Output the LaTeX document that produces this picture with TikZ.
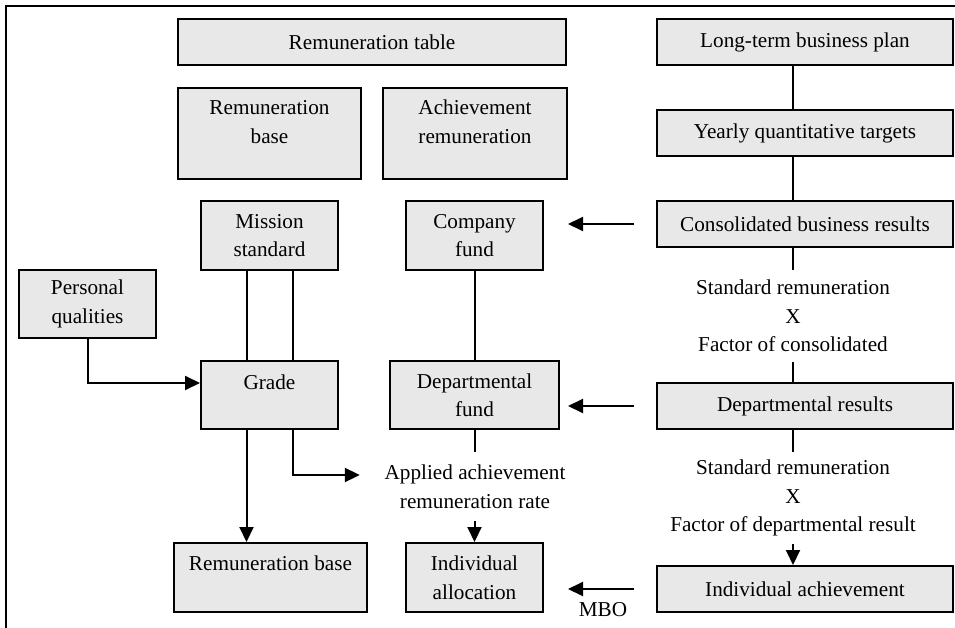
\documentclass[tikz,border=0pt]{standalone}
\usepackage{fontspec}
\setmainfont{Liberation Serif}
\usetikzlibrary{arrows.meta}
\definecolor{cellgray}{RGB}{232,232,232}
\begin{document}
\begin{tikzpicture}[x=1pt,y=-1pt,
  every node/.style={font=\fontsize{21.2}{28.5}\selectfont},
  cell/.style={draw, fill=cellgray, line width=2pt, inner sep=0pt},
  ccell/.style={cell, align=center},
  plain/.style={inner sep=0pt, align=center},
  conn/.style={line width=2pt},
  arr/.style={conn, -{Triangle[length=15pt,width=14pt]}},
]
\useasboundingbox (0,0) rectangle (955,628);

% outer frame (top and left edges)
\coordinate (fb) at (6,628);
\coordinate (ft) at (6,6);
\coordinate (fr) at (955,6);
\draw[line width=2pt] (fb) -- (ft) -- (fr);

% top row
\node[ccell, minimum width=388pt, minimum height=46pt] (rt) at (372,42) {Remuneration table};
\node[ccell, minimum width=296pt, minimum height=46pt] (lt) at (805,42) {Long-term business plan};

% remuneration categories
\node[cell, minimum width=183pt, text height=27pt, text depth=64pt] (rb1) at (269.5,133.5)
  {\parbox[t]{180pt}{\centering Remuneration\\base}};
\node[cell, minimum width=184pt, text height=27pt, text depth=64pt] (ar) at (475,133.5)
  {\parbox[t]{180pt}{\centering Achievement\\remuneration}};
\node[ccell, minimum width=296pt, minimum height=46pt] (yq) at (805,133) {Yearly quantitative targets};

% standards and funds
\node[ccell, minimum width=137pt, minimum height=69pt] (ms) at (269.5,235.5) {Mission\\standard};
\node[ccell, minimum width=137pt, minimum height=69pt] (cf) at (474.5,235.5) {Company\\fund};
\node[ccell, minimum width=296pt, minimum height=46pt] (cbr) at (805,224) {Consolidated business results};
\node[ccell, minimum width=137pt, minimum height=68pt] (pq) at (87.5,304) {Personal\\qualities};

% factor text between result boxes
\node[plain, minimum height=92pt] (f1) at (793,316) {Standard remuneration\\X\\Factor of consolidated};

% grade and departmental level
\node[cell, minimum width=137pt, text height=28pt, text depth=40pt] (gr) at (269.5,395) {Grade};
\node[ccell, minimum width=169pt, minimum height=68pt] (df) at (474.5,395) {Departmental\\fund};
\node[ccell, minimum width=296pt, minimum height=46pt] (dres) at (805,406) {Departmental results};

\node[plain, minimum width=230pt, minimum height=69pt] (ap) at (475,486.5) {Applied achievement\\remuneration rate};
\node[plain, minimum height=92pt] (f2) at (793,498) {Standard remuneration\\X\\Factor of departmental result};

% bottom row
\node[cell, minimum width=193pt, text height=27.7pt, text depth=41.3pt] (rb2) at (270.5,577.5) {Remuneration base};
\node[ccell, minimum width=137pt, minimum height=69pt] (ial) at (474.5,577.5) {Individual\\allocation};
\node[ccell, minimum width=296pt, minimum height=46pt] (ia) at (805,589) {Individual achievement};

% right column chain
\draw[conn] (lt.south -| f1) -- (yq.north -| f1);
\draw[conn] (yq.south -| f1) -- (cbr.north -| f1);
\draw[conn] (cbr.south -| f1) -- (f1.north);
\draw[conn] (f1.south) -- (dres.north -| f1);
\draw[conn] (dres.south -| f2) -- (f2.north);
\draw[arr] (f2.south) -- (ia.north -| f2);

% results feeding the funds
\draw[arr, shorten <=22pt, shorten >=24pt] (cbr.west) -- (cbr.west -| cf.east);
\draw[arr, shorten <=22pt, shorten >=8pt] (dres.west) -- (dres.west -| df.east);
\draw[arr, shorten <=22pt, shorten >=24pt] (ia.west) -- (ia.west -| ial.east)
  node[midway, below=12pt, inner sep=0pt, xshift=3pt] (mbo) {MBO};

% fund column
\draw[conn] (cf.south) -- (df.north);
\draw[conn] (df.south) -- (df.south |- ap.north);
\draw[arr] (ap.south -| ial.north) -- (ial.north);

% grade column
\draw[conn] ([xshift=-23pt]ms.south) -- ([xshift=-23pt]gr.north);
\draw[conn] ([xshift=23pt]ms.south) -- ([xshift=23pt]gr.north);
\draw[arr] (pq.south) |- ([yshift=12pt]gr.west);
\draw[arr] ([xshift=-23pt]gr.south) -- ([xshift=-23pt]gr.south |- rb2.north);
\draw[arr] ([xshift=23pt]gr.south) |- ([yshift=11.5pt]ap.west);
\end{tikzpicture}
\end{document}
